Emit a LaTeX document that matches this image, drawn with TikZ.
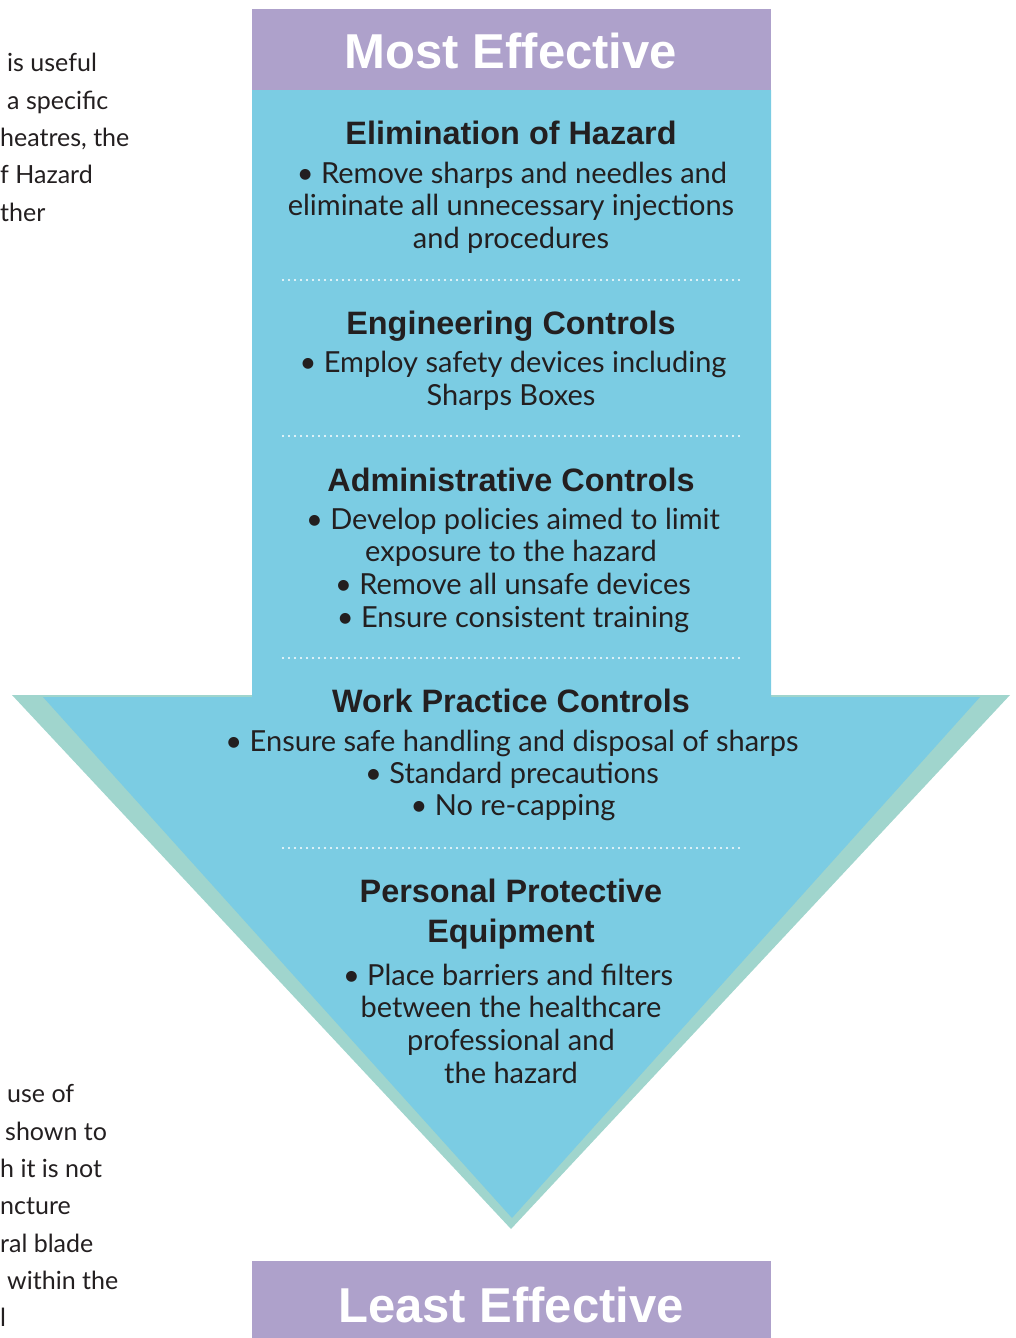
\documentclass[tikz,border=0pt]{standalone}
\usepackage{fontspec}
\setmainfont{Lato}
\newfontfamily\headfont{Liberation Sans}
\definecolor{purp}{HTML}{AEA1CB}
\definecolor{sky}{HTML}{7BCCE3}
\definecolor{mint}{HTML}{A0D5CD}
\definecolor{ink}{HTML}{231F20}
\begin{document}
\begin{tikzpicture}[x=1pt,y=-1pt,
  head/.style={anchor=base,inner sep=0pt,font=\headfont\bfseries\fontsize{32.4}{36}\selectfont,text=ink},
  body/.style={anchor=base,inner sep=0pt,font=\fontsize{29}{33}\selectfont,text=ink},
  title/.style={anchor=base,inner sep=0pt,font=\headfont\bfseries\fontsize{49}{52}\selectfont,text=white},
  side/.style={anchor=base west,inner sep=0pt,font=\fontsize{25}{30}\selectfont,text=ink},
  sep/.style={white,line width=2.4pt,line cap=round,dash pattern=on 0pt off 6pt}]
\useasboundingbox (0,0) rectangle (1016,1338);
% arrow
\fill[mint] (12,695) -- (1010,695) -- (511,1229) -- cycle;
\fill[sky] (252,90) -- (771,90) -- (771,697) -- (980,697) -- (512,1218) -- (43,697) -- (252,697) -- cycle;
% header boxes
\fill[purp] (252,9) rectangle (771,90);
\fill[purp] (252,1261) rectangle (771,1338);
\node[title] (most) at (511,69) {Most Effective};
\node[title] (least) at (511,1322) {Least Effective};
% block 1
\node[head] (h1) at (511,144) {Elimination of Hazard};
\node[body] (b11) at (512,183) {• Remove sharps and needles and};
\node[body] (b12) at (511,215) {eliminate all unnecessary injections};
\node[body] (b13) at (511,248) {and procedures};
\draw[sep] (283,280) -- (740,280);
% block 2
\node[head] (h2) at (511,334) {Engineering Controls};
\node[body] (b21) at (513,372) {• Employ safety devices including};
\node[body] (b22) at (511,405) {Sharps Boxes};
\draw[sep] (283,436) -- (740,436);
% block 3
\node[head] (h3) at (511,491) {Administrative Controls};
\node[body] (b31) at (513,529) {• Develop policies aimed to limit};
\node[body] (b32) at (511,561) {exposure to the hazard};
\node[body] (b33) at (513,594) {• Remove all unsafe devices};
\node[body] (b34) at (513,627) {• Ensure consistent training};
\draw[sep] (283,658) -- (740,658);
% block 4
\node[head] (h4) at (511,712) {Work Practice Controls};
\node[body] (b41) at (512,751) {• Ensure safe handling and disposal of sharps};
\node[body] (b42) at (512,783) {• Standard precautions};
\node[body] (b43) at (513,815) {• No re-capping};
\draw[sep] (283,848) -- (740,848);
% block 5
\node[head] (h5) at (511,902) {Personal Protective};
\node[head] (h6) at (511,942) {Equipment};
\node[body] (b51) at (508,985) {• Place barriers and filters};
\node[body] (b52) at (511,1017) {between the healthcare};
\node[body] (b53) at (511,1050) {professional and};
\node[body] (b54) at (511,1083) {the hazard};
% side text (paragraph cut off at the left edge)
\node[side] (s1) at (7,71) {is useful};
\node[side] (s2) at (7,109) {a specific};
\node[side] (s3) at (0,146) {heatres, the};
\node[side] (s4) at (0,183) {f Hazard};
\node[side] (s5) at (0,221) {ther};
\node[side] (t1) at (7,1102) {use of};
\node[side] (t2) at (5,1140) {shown to};
\node[side] (t3) at (0,1177) {h it is not};
\node[side] (t4) at (0,1214) {ncture};
\node[side] (t5) at (0,1252) {ral blade};
\node[side] (t6) at (7,1289) {within the};
\node[side] (t7) at (0,1326) {l};
\end{tikzpicture}
\end{document}
